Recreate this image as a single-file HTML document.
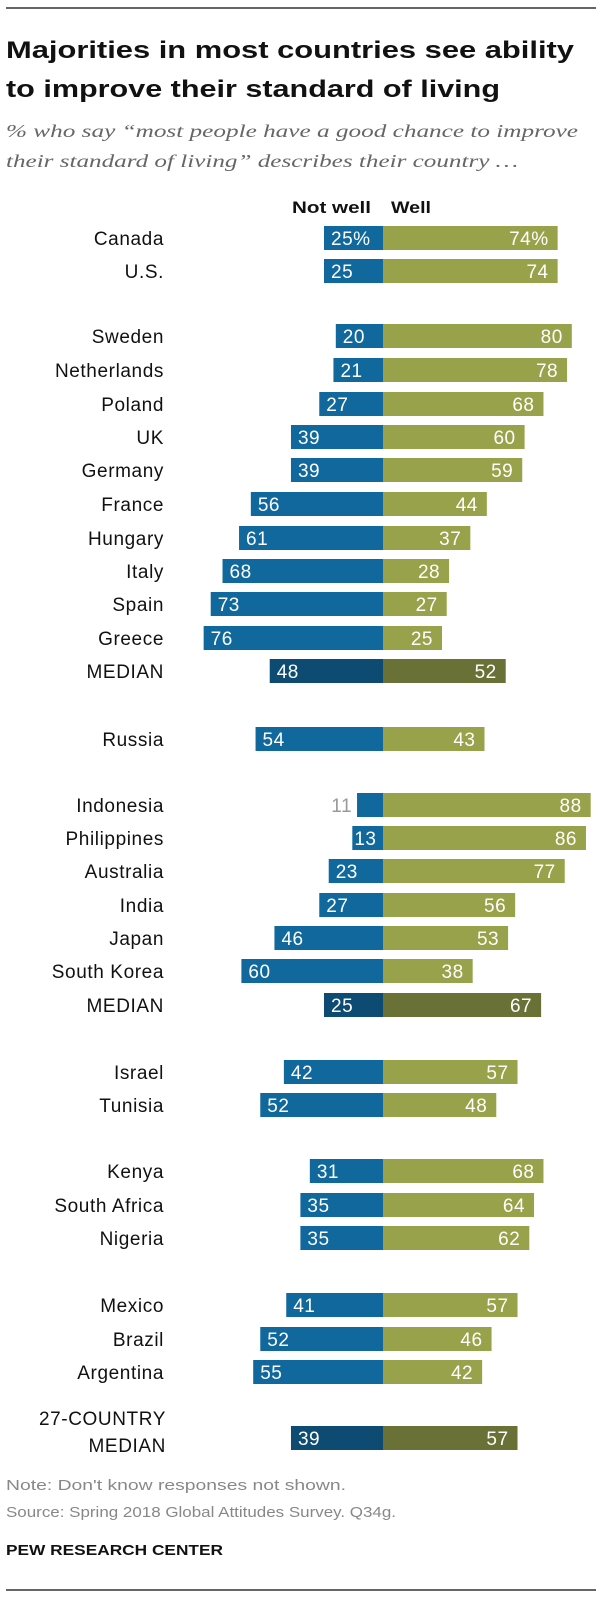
<!DOCTYPE html>
<html><head><meta charset="utf-8"><style>
html,body{margin:0;padding:0;background:#fff;}
svg{display:block;font-family:"Liberation Sans",sans-serif;}
</style></head><body>
<svg id="chart" width="602" height="1600" viewBox="0 0 602 1600" xmlns="http://www.w3.org/2000/svg">
<line x1="6" y1="8" x2="596" y2="8" stroke="#333" stroke-width="1.5"/>
<text x="6" y="58" font-size="24" font-weight="bold" fill="#111" textLength="568" lengthAdjust="spacingAndGlyphs">Majorities in most countries see ability</text>
<text x="6" y="97" font-size="24" font-weight="bold" fill="#111" textLength="494" lengthAdjust="spacingAndGlyphs">to improve their standard of living</text>
<text x="6" y="137" font-size="18" font-style="italic" fill="#666" font-family="Liberation Serif, serif" textLength="572" lengthAdjust="spacingAndGlyphs">% who say “most people have a good chance to improve</text>
<text x="6" y="167" font-size="18" font-style="italic" fill="#666" font-family="Liberation Serif, serif" textLength="512" lengthAdjust="spacingAndGlyphs">their standard of living” describes their country …</text>
<text x="292" y="213" font-size="17" font-weight="bold" fill="#111" textLength="79" lengthAdjust="spacingAndGlyphs">Not well</text>
<text x="391" y="213" font-size="17" font-weight="bold" fill="#111" textLength="40" lengthAdjust="spacingAndGlyphs">Well</text>
<g id="bars"></g>
<text x="6" y="1490" font-size="15" fill="#888" textLength="340" lengthAdjust="spacingAndGlyphs">Note: Don't know responses not shown.</text>
<text x="6" y="1517" font-size="15" fill="#888" textLength="390" lengthAdjust="spacingAndGlyphs">Source: Spring 2018 Global Attitudes Survey. Q34g.</text>
<text x="6" y="1555" font-size="15" font-weight="bold" fill="#111" textLength="217" lengthAdjust="spacingAndGlyphs">PEW RESEARCH CENTER</text>
<line x1="6" y1="1590" x2="596" y2="1590" stroke="#333" stroke-width="1.5"/>
</svg>
<script>
const categories = ["Canada","U.S.","Sweden","Netherlands","Poland","UK","Germany","France","Hungary","Italy","Spain","Greece","MEDIAN","Russia","Indonesia","Philippines","Australia","India","Japan","South Korea","MEDIAN","Israel","Tunisia","Kenya","South Africa","Nigeria","Mexico","Brazil","Argentina","27-COUNTRY MEDIAN"];
const notWell = [25,25,20,21,27,39,39,56,61,68,73,76,48,54,11,13,23,27,46,60,25,42,52,31,35,35,41,52,55,39];
const well = [74,74,80,78,68,60,59,44,37,28,27,25,52,43,88,86,77,56,53,38,67,57,48,68,64,62,57,46,42,57];
const rowCenters = [238,271,336,370,404,437,470,504,538,571,604,638,671,739,805,838,871,905,938,971,1005,1072,1105,1171,1205,1238,1305,1339,1372,1438];
const medianRows = [12,20,29];

const CX = 383, PX = 2.36, BH = 24;
const xL = v => CX - v*PX;
const xR = v => CX + v*PX;
const g = document.getElementById('bars');
const NS = 'http://www.w3.org/2000/svg';
function mk(tag, attrs, txt){
  const e = document.createElementNS(NS, tag);
  for (const k in attrs) e.setAttribute(k, attrs[k]);
  if (txt !== undefined) e.textContent = txt;
  g.appendChild(e);
  return e;
}
const LF = {'font-size':19,'letter-spacing':0.6,fill:'#111','text-anchor':'end'};
categories.forEach((c,i)=>{
  const y = rowCenters[i];
  const med = medianRows.includes(i);
  const slug = c.toLowerCase().replace(/[^a-z0-9]+/g,'-') + '-' + i;
  if (c === "27-COUNTRY MEDIAN") {
    const a = mk('text',Object.assign({x:166,y:y-13},LF),'27-COUNTRY');
    
    
    const b = mk('text',Object.assign({x:166,y:y+14},LF),'MEDIAN');
    
    
  } else {
    const t = mk('text',Object.assign({x:164,y:y+7},LF),c);
    
    
  }
  const nv = notWell[i], wv = well[i];
  const r1 = mk('rect',{x:xL(nv),y:y-BH/2,width:CX-xL(nv),height:BH,fill:med?'#0d4b72':'#11689c'});
  
  
  const r2 = mk('rect',{x:CX,y:y-BH/2,width:xR(wv)-CX,height:BH,fill:med?'#6a7137':'#97a24a'});
  
  
  const pct = i===0 ? '%' : '';
  let t1;
  if (nv < 12) {
    t1 = mk('text',{x:xL(nv)-5,y:y+7,'font-size':19,'letter-spacing':0.5,fill:'#999','text-anchor':'end'},nv+pct);
  } else {
    t1 = mk('text',{x:xL(nv)+(nv<15?2:7),y:y+7,'font-size':19,'letter-spacing':0.5,fill:'#fff'},nv+pct);
  }
  
  
  const t2 = mk('text',{x:xR(wv)-9,y:y+7,'font-size':19,'letter-spacing':0.5,fill:'#fff','text-anchor':'end'},wv+pct);
  
  
});
</script>
</body></html>
